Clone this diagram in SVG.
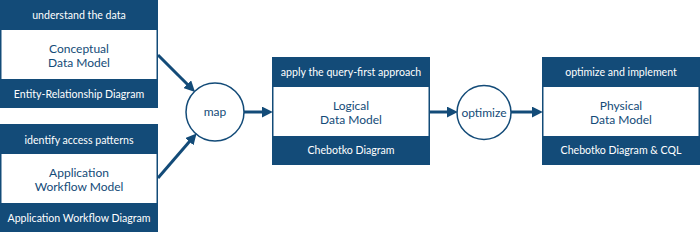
<svg xmlns="http://www.w3.org/2000/svg" width="700" height="233" viewBox="0 0 700 233">
<style>
.band{fill:#134b78}
.inner{fill:#ffffff}
.hd{font-family:Lato,"Noto Sans",sans-serif;font-size:10.6px;fill:#ffffff;text-anchor:middle}
.mid{font-family:Lato,"Noto Sans",sans-serif;font-size:12px;fill:#134b78;text-anchor:middle}
.ctext{font-family:Lato,"Noto Sans",sans-serif;font-size:12px;fill:#134b78;text-anchor:middle}
.circ{fill:#ffffff;stroke:#134b78;stroke-width:1.5}
.conn{stroke:#134b78;stroke-width:3;fill:none}
</style>
<defs>
<marker id="ah" viewBox="0 0 10 10" refX="2" refY="5" markerWidth="11" markerHeight="11" markerUnits="userSpaceOnUse" orient="auto">
<path d="M0,0 L10,5 L0,10 z" fill="#134b78"/>
</marker>
</defs>
<g id="conceptual">
<rect class="band" x="0" y="0" width="158" height="108"/>
<rect class="inner" x="1.5" y="30" width="155" height="49"/>
<text class="hd" x="79" y="19">understand the data</text>
<text class="mid" x="79" y="52.5">Conceptual</text>
<text class="mid" x="79" y="66.5">Data Model</text>
<text class="hd" x="79" y="97.5">Entity-Relationship Diagram</text>
</g>
<g id="workflow">
<rect class="band" x="0" y="124" width="158" height="108"/>
<rect class="inner" x="1.5" y="154" width="155" height="49"/>
<text class="hd" x="79" y="143.5">identify access patterns</text>
<text class="mid" x="79" y="176.5">Application</text>
<text class="mid" x="79" y="190.5">Workflow Model</text>
<text class="hd" x="79" y="221.5">Application Workflow Diagram</text>
</g>
<g id="map">
<circle class="circ" cx="215" cy="112" r="29"/>
<text class="ctext" x="215" y="116">map</text>
</g>
<g id="logical">
<rect class="band" x="272" y="57" width="158" height="108"/>
<rect class="inner" x="273.5" y="87" width="155" height="49"/>
<text class="hd" x="351" y="76">apply the query-first approach</text>
<text class="mid" x="351" y="109.5">Logical</text>
<text class="mid" x="351" y="123.5">Data Model</text>
<text class="hd" x="351" y="154">Chebotko Diagram</text>
</g>
<g id="optimize">
<circle class="circ" cx="484" cy="112.5" r="27"/>
<text class="ctext" x="484" y="116.5">optimize</text>
</g>
<g id="physical">
<rect class="band" x="542" y="57" width="158" height="108"/>
<rect class="inner" x="543.5" y="87" width="155" height="49"/>
<text class="hd" x="621" y="76">optimize and implement</text>
<text class="mid" x="621" y="109.5">Physical</text>
<text class="mid" x="621" y="123.5">Data Model</text>
<text class="hd" x="621" y="154">Chebotko Diagram &amp; CQL</text>
</g>
<g id="connectors">
<line class="conn" x1="158" y1="55" x2="188.8" y2="85.8" marker-end="url(#ah)"/>
<line class="conn" x1="158" y1="178" x2="190.8" y2="140.1" marker-end="url(#ah)"/>
<line class="conn" x1="244" y1="112" x2="264" y2="112" marker-end="url(#ah)"/>
<line class="conn" x1="430" y1="112" x2="449" y2="112" marker-end="url(#ah)"/>
<line class="conn" x1="511" y1="112" x2="534" y2="112" marker-end="url(#ah)"/>
</g>
</svg>
